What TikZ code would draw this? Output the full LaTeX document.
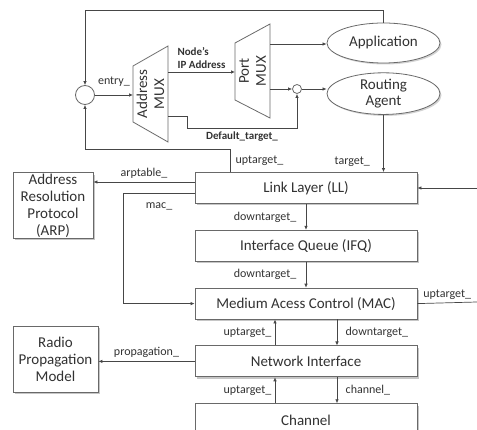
\documentclass[tikz,border=0pt]{standalone}
\usepackage{fontspec}
\setmainfont{Carlito}
\usepackage{xcolor}
\usetikzlibrary{shapes.geometric, arrows.meta, positioning, shadows, calc}
\definecolor{wire}{RGB}{70,70,70}
\definecolor{edge}{RGB}{105,105,105}
\definecolor{ink}{RGB}{50,50,50}

\begin{document}
\begin{tikzpicture}[
    x=1pt, y=-1pt,
    font=\fontsize{15}{17}\selectfont, text=ink,
    layer/.style={rectangle, draw=edge, fill=white, line width=0.8pt, minimum width=222pt, minimum height=31pt, inner sep=1pt, drop shadow={shadow xshift=2pt, shadow yshift=-2pt, opacity=0.45}},
    side/.style={rectangle, draw=edge, fill=white, line width=0.8pt, align=center, inner sep=1pt, drop shadow={shadow xshift=2pt, shadow yshift=-2pt, opacity=0.45}},
    agent/.style={ellipse, draw=edge, fill=white, line width=0.8pt, minimum width=113pt, minimum height=40pt, inner sep=0pt, align=center, font=\fontsize{15}{16.5}\selectfont, drop shadow={shadow xshift=1.5pt, shadow yshift=-1.5pt, opacity=0.35}},
    junction/.style={circle, draw=edge, fill=white, line width=0.8pt, inner sep=0pt},
    mux/.style={draw=edge, line width=0.8pt},
    tag/.style={font=\fontsize{12}{14}\selectfont},
    strong/.style={font=\fontsize{11}{12.5}\selectfont\bfseries, align=left},
    arrow/.style={-{Latex[length=4pt,width=3.5pt]}, draw=wire, line width=0.7pt},
    wireline/.style={draw=wire, line width=0.7pt}
]
\useasboundingbox (0,0) rectangle (477,430);
\clip (0,0) rectangle (477,430);

% Address and port demultiplexers
\draw[mux] (133,66) -- (168,46) -- (168,142) -- (133,122) -- cycle;
\node[rotate=90, align=center] (amux) at (150.5,94) {Address\\MUX};
\draw[mux] (235,43) -- (270,24) -- (270,118) -- (235,100) -- cycle;
\node[rotate=90, align=center] (pmux) at (252.5,71) {Port\\MUX};
\coordinate (amuxin) at (133,95);
\coordinate (amuxip) at (168,72);
\coordinate (amuxdef) at (168,116);
\coordinate (pmuxin) at (235,72);
\coordinate (pmuxapp) at (270,44);
\coordinate (pmuxra) at (270,89);

\node[junction, minimum size=19pt] (entry) at (85,95) {};
\node[junction, minimum size=9pt] (merge) at (297,89) {};

% Agents
\node[agent] (app) at (383.5,43) {Application};
\node[agent, below=9pt of app] (ra) {Routing\\Agent};

% Layer stack
\node[layer] (ll) at (306,188) {Link Layer (LL)};
\node[layer, below=26pt of ll] (ifq) {Interface Queue (IFQ)};
\node[layer, below=26pt of ifq] (mac) {Medium Acess Control (MAC)};
\node[layer, below=26pt of mac] (ni) {Network Interface};
\node[layer, below=26pt of ni, minimum height=34pt] (chan) {Channel};

% Side boxes
\node[side, minimum width=80pt, minimum height=65pt] (arp) at (53,205.5) {Address\\Resolution\\Protocol\\(ARP)};
\node[side, minimum width=85pt, minimum height=66pt] (rpm) at (55.5,359) {Radio\\Propagation\\Model};

\coordinate (llarp) at ([yshift=6pt]ll.west);
\coordinate (llmac) at ([yshift=-5pt]ll.west);
\coordinate (llin) at (477,188);
\coordinate (macout) at (477,302);

% Arrows
\draw[arrow] (entry) -- (amuxin) node[tag, midway, above=5pt] {entry\_};
\draw[arrow] (amuxip) -- (pmuxin) node[strong, midway, above] {Node's\\IP Address};
\draw[arrow] (pmuxapp) -- (pmuxapp -| app.west);
\draw[arrow] (pmuxra) -- (merge);
\draw[arrow] (merge) -- (merge -| ra.west);
\draw[arrow] (amuxdef) -| (187,128) -| (merge) node[strong, pos=0.25, below] {Default\_target\_};
\draw[arrow] (app.north) -- ++(0,-12) -| (entry);
\draw[arrow] ([xshift=-76pt]ll.north) -- ++(0,-23) node[tag, midway, right=2pt] {uptarget\_} -| (entry);
\draw[arrow] (ra.south) -- (ra.south |- ll.north) node[tag, pos=0.82, left=10pt] {target\_};
\draw[arrow] (llin) -- (ll.east);
\draw[arrow] (llarp) -- (llarp -| arp.east) node[tag, midway, above] {arptable\_};
\draw[arrow] (llmac) -- ++(-71,0) node[tag, midway, below=6pt] {mac\_} |- (mac.west);
\draw[wireline] (mac.east) -- (macout) node[tag, midway, above] {uptarget\_};

\draw[arrow] (ll) -- (ifq) node[tag, midway, left=6pt] {downtarget\_};
\draw[arrow] (ifq) -- (mac) node[tag, midway, left=6pt] {downtarget\_};
\draw[arrow] ([xshift=31pt]mac.south) -- ([xshift=31pt]ni.north) node[tag, midway, right=5pt] {downtarget\_};
\draw[arrow] ([xshift=-31pt]ni.north) -- ([xshift=-31pt]mac.south) node[tag, midway, left] {uptarget\_};
\draw[arrow] ([xshift=31pt]ni.south) -- ([xshift=31pt]chan.north) node[tag, midway, right=5pt] {channel\_};
\draw[arrow] ([xshift=-31pt]chan.north) -- ([xshift=-31pt]ni.south) node[tag, midway, left] {uptarget\_};
\draw[arrow] (ni.west) -- (ni.west -| rpm.east) node[tag, midway, above] {propagation\_};

\end{tikzpicture}
\end{document}
